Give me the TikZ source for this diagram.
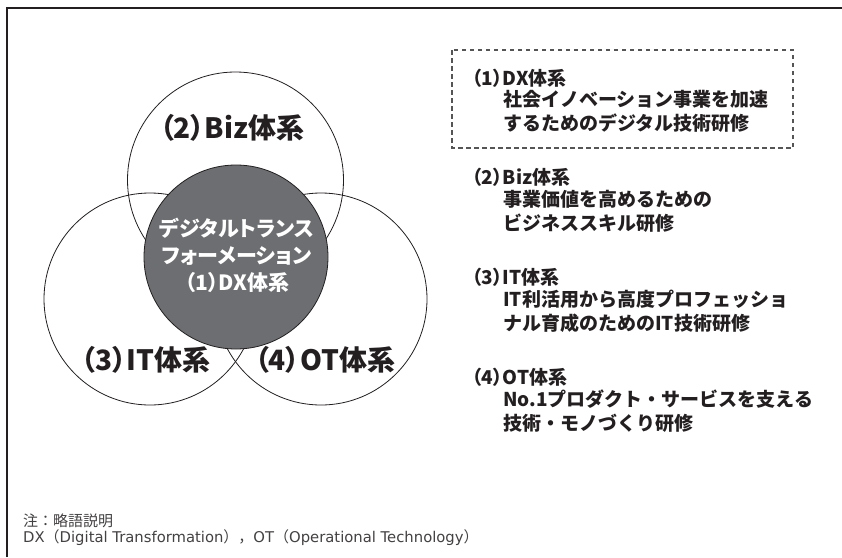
\documentclass[tikz,border=0pt]{standalone}
\usepackage{fontspec}
\newfontfamily\jp[RawFeature=+palt]{Noto Sans CJK JP}
\newfontfamily\jpn{Noto Sans CJK JP}
\newfontfamily\latn{DejaVu Sans}
\definecolor{ink}{HTML}{231F20}
\definecolor{dxgray}{HTML}{6D6E71}
\definecolor{dashgray}{HTML}{555555}
\tikzset{
  ring/.style={circle, draw=ink, line width=0.8pt, inner sep=0pt},
  biglabel/.style={font=\jp\bfseries\fontsize{28}{30}\selectfont, text=ink, inner sep=0pt},
  inlabel/.style={font=\jp\bfseries\fontsize{21}{27}\selectfont, text=white, align=center, inner sep=0pt},
  head/.style={font=\jp\bfseries\fontsize{19}{24}\selectfont, text=ink, anchor=west, inner sep=0pt},
  body/.style={font=\jpn\bfseries\fontsize{19}{24}\selectfont, text=ink, anchor=north west, align=left, inner sep=0pt},
  note/.style={font=\jpn\fontsize{15}{16}\selectfont, text=ink!85, anchor=west, inner sep=0pt}
}
\newcommand{\lt}[1]{{\latn\fontsize{14.8}{16}\selectfont #1}}
\begin{document}
\begin{tikzpicture}[x=1pt,y=-1pt]
\useasboundingbox (0,0) rectangle (842,557);
\fill[white] (0,0) rectangle (842,557);
% frame (top and left only)
\draw[ink, line width=1.3pt] (7,557) -- (7,8) -- (842,8);
% circles
\node[ring, minimum size=216pt] (biz) at (235.5,180) {};
\node[ring, minimum size=212pt] (it) at (150,299) {};
\node[ring, minimum size=212pt] (ot) at (321,299) {};
\node[ring, fill=dxgray, minimum size=184pt] (dx) at (236,257) {};
% circle labels
\node[biglabel] (bizl) at (232,128) {（2）Biz体系};
\node[biglabel] (itl) at (146,360) {（3）IT体系};
\node[biglabel] (otl) at (325,360) {（4）OT体系};
\node[inlabel] (dxl) at (237,255) {デジタルトランス\\フォーメーション\\（1）DX体系};
% dashed box
\draw[dashgray, line width=1.1pt, dash pattern=on 4.5pt off 3.5pt] (452,50) rectangle (793,148);
% right panel
\node[head] (h1) at (472,78) {（1）DX体系};
\node[body] (b1) at (503,90) {社会イノベーション事業を加速\\するためのデジタル技術研修};
\node[head] (h2) at (472,177) {（2）Biz体系};
\node[body] (b2) at (503,190) {事業価値を高めるための\\ビジネススキル研修};
\node[head] (h3) at (472,277) {（3）IT体系};
\node[body] (b3) at (503,290) {IT利活用から高度プロフェッショ\\ナル育成のためのIT技術研修};
\node[head] (h4) at (472,377) {（4）OT体系};
\node[body] (b4) at (503,390) {No.1プロダクト・サービスを支える\\技術・モノづくり研修};
% footnote
\node[note] (n1) at (23,521) {注：略語説明};
\node[note] (n2) at (23,538) {\lt{DX}（\lt{Digital Transformation}），\lt{OT}（\lt{Operational Technology}）};
\end{tikzpicture}
\end{document}
